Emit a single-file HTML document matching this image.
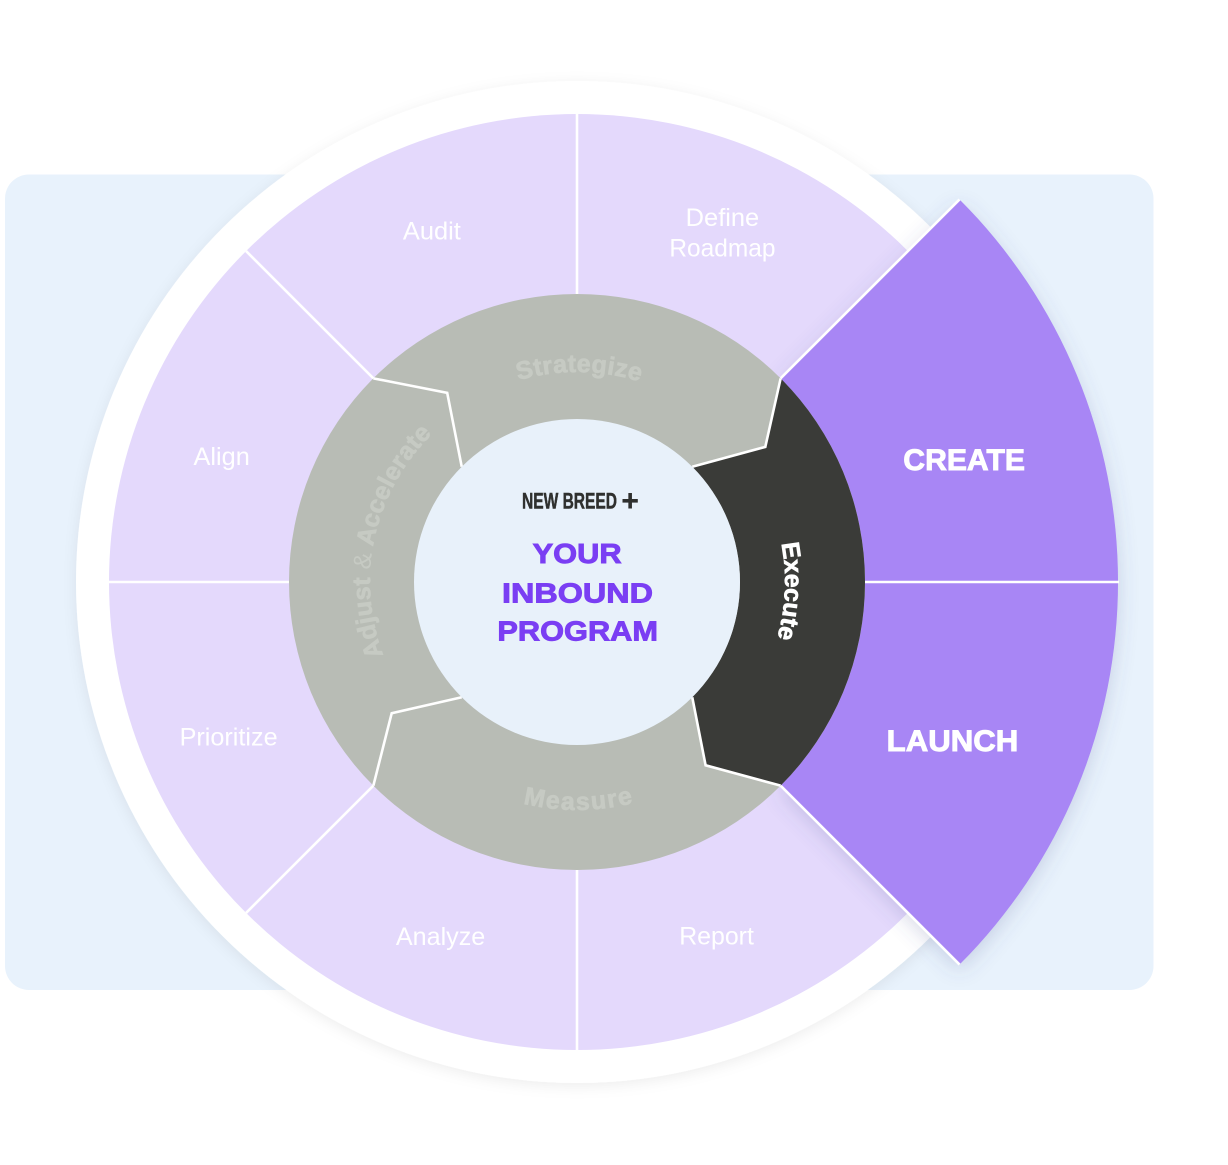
<!DOCTYPE html>
<html>
<head>
<meta charset="utf-8">
<style>
html,body{margin:0;padding:0;background:#ffffff;}
svg{display:block;}
</style>
</head>
<body>
<svg width="1228" height="1165" viewBox="0 0 1228 1165" xmlns="http://www.w3.org/2000/svg">
  <defs>
    <filter id="circShadow" x="-20%" y="-20%" width="140%" height="140%">
      <feDropShadow dx="0" dy="3" stdDeviation="7" flood-color="#000000" flood-opacity="0.07"/>
    </filter>
    <filter id="secShadow" x="-30%" y="-30%" width="160%" height="160%">
      <feDropShadow dx="0" dy="6" stdDeviation="10" flood-color="#4a5590" flood-opacity="0.22"/>
    </filter>
    <path id="pStrat" d="M 396.31 474.94 A 210 210 0 0 1 760.04 479.07"/>
    <path id="pMeas" d="M 380.55 697.72 A 228 228 0 0 0 775.44 694.27"/>
    <path id="pExec" d="M 688.76 406.57 A 208 208 0 0 1 673.04 766.50"/>
    <path id="pAdj" d="M 437.15 734.62 A 207 207 0 0 1 514.75 384.58"/>
  </defs>

  <!-- light blue background card -->
  <rect x="5" y="174.5" width="1148.5" height="815.5" rx="24" ry="24" fill="#E8F2FC"/>

  <!-- white outer circle -->
  <circle cx="577" cy="582" r="501" fill="#ffffff" filter="url(#circShadow)"/>

  <!-- lavender ring -->
  <circle cx="577" cy="582" r="468" fill="#E4D9FC"/>

  <!-- lavender separators -->
  <g stroke="#ffffff" stroke-width="2.6" fill="none">
    <line x1="577" y1="294" x2="577" y2="113"/>
    <line x1="577" y1="870" x2="577" y2="1051"/>
    <line x1="289" y1="582" x2="108" y2="582"/>
    <line x1="373.35" y1="378.35" x2="246.07" y2="251.07"/>
    <line x1="373.35" y1="785.65" x2="246.07" y2="912.93"/>
  </g>

  <!-- highlighted purple sector (CREATE / LAUNCH) -->
  <path d="M 780.65 378.35 L 959.55 199.45 A 541 541 0 0 1 959.55 964.55 L 780.65 785.65 A 288 288 0 0 0 780.65 378.35 Z"
        fill="#A886F5" filter="url(#secShadow)"/>
  <g stroke="#ffffff" stroke-width="2.6" fill="none">
    <line x1="780.65" y1="378.35" x2="959.55" y2="199.45"/>
    <line x1="780.65" y1="785.65" x2="959.55" y2="964.55"/>
    <line x1="864" y1="582" x2="1119" y2="582"/>
  </g>

  <!-- gray inner ring -->
  <circle cx="577" cy="582" r="288" fill="#B8BCB5"/>

  <!-- dark Execute segment -->
  <path d="M 780.65 378.35 L 765.3 446.9 L 692.26 466.74 A 163 163 0 0 1 692.26 697.26 L 705.6 765.3 L 780.65 785.65 A 288 288 0 0 0 780.65 378.35 Z"
        fill="#3A3B38"/>

  <!-- zigzag separators -->
  <g stroke="#ffffff" stroke-width="2.6" fill="none" stroke-linejoin="miter">
    <polyline points="780.65,378.35 765.3,446.9 692.26,466.74"/>
    <polyline points="780.65,785.65 705.6,765.3 692.26,697.26"/>
    <polyline points="373.35,785.65 391.7,713.2 461.74,697.26"/>
    <polyline points="373.35,378.35 447.2,392.9 461.74,466.74"/>
  </g>

  <!-- center circle -->
  <circle cx="577" cy="582" r="163" fill="#E8F1FA"/>

  <!-- curved ring labels -->
  <g font-family="'Liberation Sans', sans-serif" font-weight="bold" font-size="25">
    <text fill="#C6CAC3" stroke="#C6CAC3" stroke-width="0.7" letter-spacing="0.4">
      <textPath href="#pStrat" startOffset="50%" text-anchor="middle">Strategize</textPath>
    </text>
    <text fill="#C6CAC3" stroke="#C6CAC3" stroke-width="0.7" letter-spacing="1.6">
      <textPath href="#pMeas" startOffset="50%" text-anchor="middle">Measure</textPath>
    </text>
    <text fill="#ffffff" stroke="#ffffff" stroke-width="0.7" letter-spacing="0">
      <textPath href="#pExec" startOffset="50%" text-anchor="middle">Execute</textPath>
    </text>
    <text fill="#C6CAC3" stroke="#C6CAC3" stroke-width="0.7" letter-spacing="0.3">
      <textPath href="#pAdj" startOffset="50%" text-anchor="middle">Adjust <tspan font-weight="normal" stroke-width="0">&amp;</tspan> Accelerate</textPath>
    </text>
  </g>

  <!-- center title -->
  <g font-family="'Liberation Sans', sans-serif" font-weight="bold">
    <text x="522" y="508.5" font-size="22" fill="#2F302E" stroke="#2F302E" stroke-width="0.5" textLength="95" lengthAdjust="spacingAndGlyphs">NEW BREED</text>
    <rect x="622.5" y="499" width="15.3" height="3.6" fill="#2F302E"/>
    <rect x="628.35" y="493" width="3.6" height="15.5" fill="#2F302E"/>
    <g fill="#7A3EF3" stroke="#7A3EF3" stroke-width="0.9" font-size="28">
      <text x="532.6" y="563.2" textLength="89" lengthAdjust="spacingAndGlyphs">YOUR</text>
      <text x="502" y="602.6" textLength="151" lengthAdjust="spacingAndGlyphs">INBOUND</text>
      <text x="497.4" y="640.5" textLength="160.6" lengthAdjust="spacingAndGlyphs">PROGRAM</text>
    </g>
  </g>

  <!-- purple sector labels -->
  <g font-family="'Liberation Sans', sans-serif" font-weight="bold" font-size="30" fill="#ffffff" stroke="#ffffff" stroke-width="0.9">
    <text x="903.3" y="470" textLength="121.7" lengthAdjust="spacingAndGlyphs">CREATE</text>
    <text x="886.7" y="751" textLength="131.6" lengthAdjust="spacingAndGlyphs">LAUNCH</text>
  </g>

  <!-- lavender labels -->
  <g font-family="'Liberation Sans', sans-serif" font-size="25" fill="#ffffff">
    <text x="402.9" y="239.3" textLength="57.9" lengthAdjust="spacingAndGlyphs">Audit</text>
    <text x="685.7" y="226" textLength="73.5" lengthAdjust="spacingAndGlyphs">Define</text>
    <text x="669.4" y="256.7" textLength="106.1" lengthAdjust="spacingAndGlyphs">Roadmap</text>
    <text x="193.5" y="465" textLength="56.3" lengthAdjust="spacingAndGlyphs">Align</text>
    <text x="179.6" y="745.7" textLength="98" lengthAdjust="spacingAndGlyphs">Prioritize</text>
    <text x="395.9" y="945" textLength="89.4" lengthAdjust="spacingAndGlyphs">Analyze</text>
    <text x="679.2" y="944.3" textLength="74.7" lengthAdjust="spacingAndGlyphs">Report</text>
  </g>
</svg>
</body>
</html>
